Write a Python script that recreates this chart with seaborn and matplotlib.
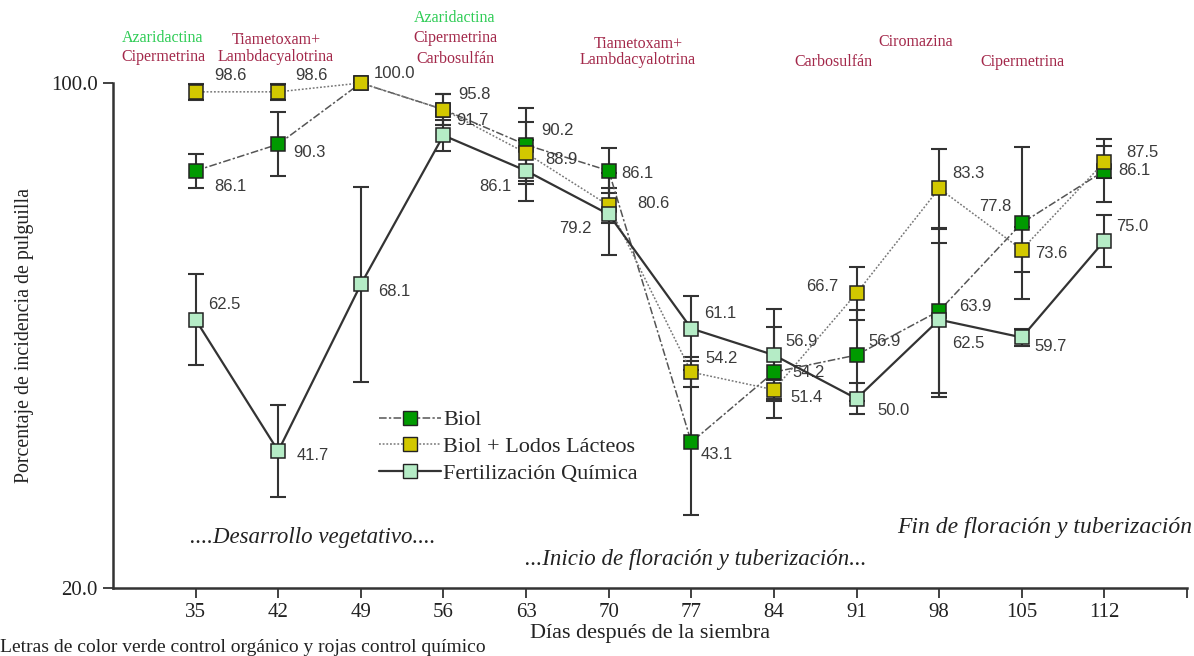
import matplotlib
matplotlib.use('Agg')
import matplotlib.pyplot as plt
from matplotlib.lines import Line2D
import seaborn as sns
import pandas as pd

# days after sowing
dias = [35, 42, 49, 56, 63, 70, 77, 84, 91, 98, 105, 112]

biol = [86.1, 90.3, 100.0, 95.8, 90.2, 86.1, 43.1, 54.2, 56.9, 63.9, 77.8, 86.1]
biol_err = [2.7, 5.1, 0.0, 2.4, 5.8, 3.6, 11.5, 7.2, 7.2, 13.0, 12.0, 5.0]

lodos = [98.6, 98.6, 100.0, 95.8, 88.9, 80.6, 54.2, 51.4, 66.7, 83.3, 73.6, 87.5]
lodos_err = [1.3, 1.3, 0.0, 2.4, 4.9, 2.7, 2.4, 1.5, 4.2, 6.3, 3.6, 2.5]

quimica = [62.5, 41.7, 68.1, 91.7, 86.1, 79.2, 61.1, 56.9, 50.0, 62.5, 59.7, 75.0]
quimica_err = [7.2, 7.3, 15.5, 2.4, 4.8, 6.5, 5.2, 7.3, 2.4, 12.2, 1.3, 4.1]

# value label offsets (pixels) -- None means label hidden
biol_off = [(35, -16), (31, -8), None, None, (31, 14), (29, -3), (25, -12),
            (35, 0), (28, 14), (36, 4), (-27, 17), (30, 0)]
lodos_off = [(35, 16), (33, 16), (34, 10), (31, 15), (35, -6), (45, 2), (30, 14),
             (33, -8), (-34, 7), (29, 15), (29, -4), (38, 9)]
quimica_off = [(29, 15), (35, -4), (33, -7), (29, 15), (-31, -16), (-33, -14),
               (29, 15), (28, 14), (37, -12), (29, -24), (29, -9), (28, 14)]

# products applied (text, x px, y px, colour)
verde = '#2ecc55'
rojo = '#a3284a'
productos = [
    ('Azaridactina', 163, 38, verde), ('Cipermetrina', 163, 57, rojo),
    ('Tiametoxam+', 276, 40, rojo), ('Lambdacyalotrina', 276, 57, rojo),
    ('Azaridactina', 455, 18, verde), ('Cipermetrina', 455, 38, rojo),
    ('Carbosulfán', 455, 59, rojo),
    ('Tiametoxam+', 638, 44, rojo), ('Lambdacyalotrina', 638, 60, rojo),
    ('Carbosulfán', 833, 62, rojo), ('Ciromazina', 916, 42, rojo),
    ('Cipermetrina', 1022, 62, rojo),
]

W, H = 1194, 656
sns.set_theme(style='white')
plt.rcParams['font.family'] = ['Liberation Serif', 'DejaVu Serif']

fig = plt.figure(figsize=(W / 100, H / 100), dpi=100)
ax = fig.add_axes([113 / W, 1 - 588 / H, (1187 - 113) / W, (588 - 83) / H])

series = [
    ('Biol', biol, biol_err, biol_off, '#009a00', (0, (5, 1.5, 1.5, 1.5)), 1.1, '#555555'),
    ('Biol + Lodos Lácteos', lodos, lodos_err, lodos_off, '#d2c800', (0, (1.2, 1.2)), 1.1, '#777777'),
    ('Fertilización Química', quimica, quimica_err, quimica_off, '#b5ecc6', '-', 1.6, '#333333'),
]

handles = []
for name, vals, errs, offs, fc, ls, lw, lc in series:
    df = pd.DataFrame({'dia': dias, 'valor': vals})
    ax.errorbar(df['dia'], df['valor'], yerr=errs, fmt='none', ecolor='#333333',
                elinewidth=1.5, capsize=6, capthick=1.5, zorder=2, clip_on=False)
    sns.lineplot(data=df, x='dia', y='valor', ax=ax, color=lc, linestyle=ls, lw=lw,
                 marker='s', markersize=9.5, markerfacecolor=fc, markeredgecolor='#222222',
                 markeredgewidth=1.1, errorbar=None, zorder=3, clip_on=False)
    for d, v, o in zip(dias, vals, offs):
        if o is None:
            continue
        ax.annotate(f'{v:.1f}', (d, v), xytext=o, textcoords='offset pixels',
                    ha='center', va='center', fontsize=12, color='#3a3a3a',
                    family='Liberation Sans')
    handles.append(Line2D([], [], color=lc, linestyle=ls, lw=lw, marker='s',
                          markersize=9.5, markerfacecolor=fc, markeredgecolor='#222222'))

ax.set_xlim(28, 119)
ax.set_ylim(20, 100)
ax.set_xticks(dias + [119])
ax.set_xticklabels([str(d) for d in dias] + [''])
ax.set_yticks([20, 100])
ax.set_yticklabels(['20.0', '100.0'])
ax.tick_params(axis='both', direction='out', length=7, width=1.3, color='#333333',
               labelsize=15, labelcolor='#222222', bottom=True, left=True, pad=4)
for s in ['top', 'right']:
    ax.spines[s].set_visible(False)
for s in ['left', 'bottom']:
    ax.spines[s].set_color('#333333')
    ax.spines[s].set_linewidth(1.8)
ax.set_xlabel('Días después de la siembra', fontsize=16, color='#222222', labelpad=1)
ax.set_ylabel('Porcentaje de incidencia de pulguilla', fontsize=14.3, color='#222222', labelpad=12)

leg = ax.legend(handles, [s[0] for s in series], loc='upper left',
                bbox_to_anchor=(370 / W, 1 - 401 / H), bbox_transform=fig.transFigure,
                frameon=False, fontsize=16, handlelength=2.8, handletextpad=0.1,
                labelspacing=0.28, borderaxespad=0)

for txt, px, py, c in productos:
    fig.text(px / W, 1 - py / H, txt, ha='center', va='center', fontsize=11.5, color=c)

fig.text(313 / W, 1 - 537 / H, '....Desarrollo vegetativo....', ha='center', va='center',
         fontsize=16.5, style='italic', color='#222222')
fig.text(696 / W, 1 - 559 / H, '...Inicio de floración y tuberización...', ha='center',
         va='center', fontsize=16.5, style='italic', color='#222222')
fig.text(1192 / W, 1 - 528 / H, 'Fin de floración y tuberización', ha='right', va='center',
         fontsize=17, style='italic', color='#222222')
fig.text(0, 1 - 647 / H, 'Letras de color verde control orgánico y rojas control químico',
         ha='left', va='center', fontsize=14, color='#222222')

fig.savefig('out.png', dpi=100)
